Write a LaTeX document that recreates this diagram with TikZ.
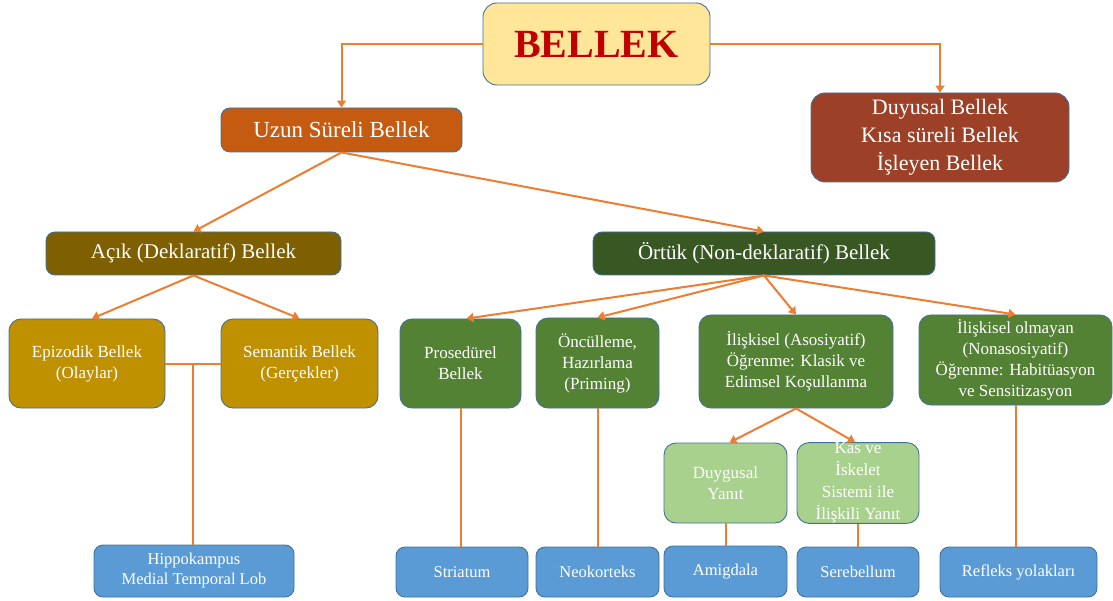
\documentclass[tikz,border=0pt]{standalone}
\usepackage{fontspec}
\setmainfont{Liberation Serif}
\usetikzlibrary{arrows.meta,calc}
\definecolor{boxline}{HTML}{41719C}
\definecolor{linkorange}{HTML}{ED7D31}
\definecolor{bellekfill}{HTML}{FFE699}
\definecolor{bellektext}{HTML}{C00000}
\definecolor{uzunfill}{HTML}{C55A11}
\definecolor{kisafill}{HTML}{9C4128}
\definecolor{acikfill}{HTML}{7F6000}
\definecolor{ortukfill}{HTML}{385723}
\definecolor{goldfill}{HTML}{BF9000}
\definecolor{greenfill}{HTML}{548235}
\definecolor{lightgreen}{HTML}{A9D18E}
\definecolor{bluefill}{HTML}{5B9BD5}
\newcommand{\fs}[2]{\fontsize{#1}{#2}\selectfont}

\begin{document}
\begin{tikzpicture}[x=1pt,y=-1pt,
	box/.style={draw=boxline, line width=0.9pt, rounded corners=9pt, text=white, align=center, inner sep=0pt},
	head/.style={box, font=\fs{21}{26}, minimum height=43pt},
	mid/.style={box, font=\fs{17}{21}, minimum height=89pt, rounded corners=12pt},
	low/.style={box, fill=bluefill, font=\fs{16.5}{20}, minimum height=50pt},
	link/.style={draw=linkorange, line width=2pt},
	arr/.style={link, -{Triangle[width=9pt,length=7pt]}}]
	\useasboundingbox (0,0) rectangle (1113,601);

	\node[box, fill=bellekfill, text=bellektext, font=\fs{40}{44}\bfseries, minimum width=227pt, minimum height=82pt, rounded corners=14pt] (bellek) at (596.5,44) {BELLEK};
	\node[head, fill=uzunfill, font=\fs{23}{26}, minimum width=241pt, minimum height=44pt] (uzun) at (341.5,130) {Uzun Süreli Bellek};
	\node[box, fill=kisafill, font=\fs{22}{28}, minimum width=258pt, minimum height=89pt, rounded corners=14pt] (kisa) at (940,137.5) {Duyusal Bellek\\Kısa süreli Bellek\\İşleyen Bellek};

	\node[head, fill=acikfill, minimum width=295pt] (acik) at (193.5,253.5) {Açık (Deklaratif) Bellek};
	\node[head, fill=ortukfill, minimum width=342pt] (ortuk) at (764,253.5) {Örtük (Non-deklaratif) Bellek};

	\node[mid, fill=goldfill, minimum width=156pt] (epizodik) at (87,363.5) {Epizodik Bellek\\(Olaylar)};
	\node[mid, fill=goldfill, minimum width=157pt] (semantik) at (299.5,363.5) {Semantik Bellek\\(Gerçekler)};
	\node[mid, fill=greenfill, minimum width=121pt] (prosedurel) at (460.5,363.5) {Prosedürel\\Bellek};
	\node[mid, fill=greenfill, minimum width=123pt, minimum height=90pt] (priming) at (597.5,363) {Öncülleme,\\Hazırlama\\(Priming)};
	\node[mid, fill=greenfill, minimum width=194pt, minimum height=93pt] (iliskisel) at (796,361.5) {İlişkisel (Asosiyatif)\\Öğrenme: Klasik ve\\Edimsel Koşullanma};
	\node[mid, fill=greenfill, minimum width=193pt, minimum height=90pt] (olmayan) at (1015.5,360) {İlişkisel olmayan\\(Nonasosiyatif)\\Öğrenme: Habitüasyon\\ve Sensitizasyon};

	\node[mid, fill=lightgreen, minimum width=123pt, minimum height=80pt] (duygusal) at (725.5,483) {Duygusal\\Yanıt};
	\node[mid, fill=lightgreen, minimum width=122pt, minimum height=80pt, font=\fs{17}{22}] (kas) at (858,483) {Kas ve\\İskelet\\Sistemi ile\\İlişkili Yanıt};

	\node[low, minimum width=200pt, minimum height=52pt] (hippo) at (194,571) {Hippokampus\\Medial Temporal Lob};
	\node[low, minimum width=132pt] (striatum) at (462,572) {Striatum};
	\node[low, minimum width=123pt] (neokorteks) at (597.5,572) {Neokorteks};
	\node[low, minimum width=123pt, minimum height=51pt] (amigdala) at (725.5,571.5) {Amigdala};
	\node[low, minimum width=122pt] (serebellum) at (858,572) {Serebellum};
	\node[low, minimum width=157pt] (refleks) at (1018.5,572) {Refleks yolakları};

	\coordinate (birlesim) at ($(epizodik.east)!0.5!(semantik.west)$);

	\draw[arr] (bellek.west) -| (uzun.north);
	\draw[arr] (bellek.east) -| (kisa.north);
	\draw[arr] (uzun.south) -- (acik.north);
	\draw[arr] (uzun.south) -- (ortuk.north);
	\draw[arr] (acik.south) -- ([xshift=5pt]epizodik.north);
	\draw[arr] (acik.south) -- (semantik.north);
	\draw[arr] (ortuk.south) -- ([xshift=6pt]prosedurel.north);
	\draw[arr] (ortuk.south) -- (priming.north);
	\draw[arr] (ortuk.south) -- (iliskisel.north);
	\draw[arr] (ortuk.south) -- (olmayan.north);
	\draw[arr] (iliskisel.south) -- ([xshift=4pt]duygusal.north);
	\draw[arr] (iliskisel.south) -- ([xshift=-3pt]kas.north);

	\draw[link] (epizodik.east) -- (semantik.west);
	\draw[link] (birlesim) -- (birlesim |- hippo.north);
	\draw[link] (prosedurel.south) -- (prosedurel.south |- striatum.north);
	\draw[link] (priming.south) -- (priming.south |- neokorteks.north);
	\draw[link] (duygusal.south) -- (amigdala.north);
	\draw[link] (kas.south) -- (kas.south |- serebellum.north);
	\draw[link] (olmayan.south) -- (olmayan.south |- refleks.north);
\end{tikzpicture}
\end{document}
